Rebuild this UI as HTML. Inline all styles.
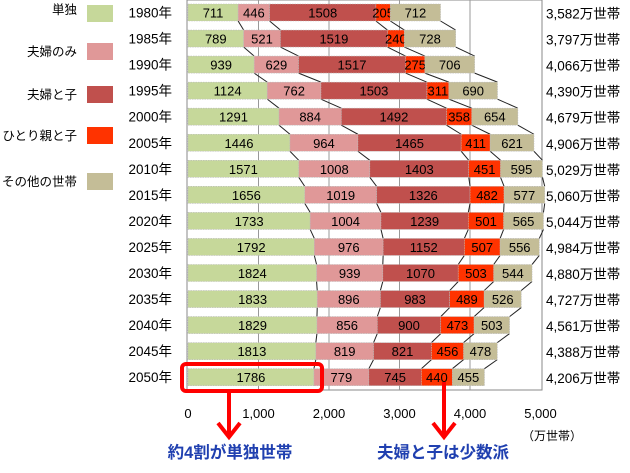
<!DOCTYPE html>
<html><head><meta charset="utf-8"><style>
body{margin:0;background:#fff;width:630px;height:468px;overflow:hidden;font-family:"Liberation Sans","Noto Sans CJK JP",sans-serif}
</style></head><body>
<svg id="chart" width="630" height="468" xmlns="http://www.w3.org/2000/svg" font-family="Liberation Sans, Noto Sans CJK JP, sans-serif"></svg>
<script>
const years=["1980年","1985年","1990年","1995年","2000年","2005年","2010年","2015年","2020年","2025年","2030年","2035年","2040年","2045年","2050年"];
const single=[711,789,939,1124,1291,1446,1571,1656,1733,1792,1824,1833,1829,1813,1786];
const couple=[446,521,629,762,884,964,1008,1019,1004,976,939,896,856,819,779];
const coupleChild=[1508,1519,1517,1503,1492,1465,1403,1326,1239,1152,1070,983,900,821,745];
const singleParent=[205,240,275,311,358,411,451,482,501,507,503,489,473,456,440];
const other=[712,728,706,690,654,621,595,577,565,556,544,526,503,478,455];
const totals=["3,582","3,797","4,066","4,390","4,679","4,906","5,029","5,060","5,044","4,984","4,880","4,727","4,561","4,388","4,206"];
const xTicks=[0,1000,2000,3000,4000,5000];
const xTickLabels=["0","1,000","2,000","3,000","4,000","5,000"];
const seriesNames=["単独","夫婦のみ","夫婦と子","ひとり親と子","その他の世帯"];
const colors=["#c6d89a","#e09898","#c0504d","#ff3300","#c4bd97"];
const series=[single,couple,coupleChild,singleParent,other];
const NS="http://www.w3.org/2000/svg";
const svg=document.getElementById('chart');
const x=v=>188+v*0.0705;
const yc=i=>12.5+i*26.05;
const bh=17;
function mk(t,a,p){const e=document.createElementNS(NS,t);for(const k in a)e.setAttribute(k,a[k]);(p||svg).appendChild(e);return e;}
let fr=mk('rect',{x:187,y:0,width:355,height:390,fill:'none',stroke:'#888','stroke-width':1});


xTicks.forEach((t,i)=>{
 if(i>0&&i<5){let g=mk('line',{x1:x(t),x2:x(t),y1:0,y2:390,stroke:'#999','stroke-width':1});
 
 }
 let tl=mk('text',{x:x(t),y:418,'text-anchor':'middle','font-size':13,fill:'#000'});
 tl.textContent=xTickLabels[i];
 
 
});
let un=mk('text',{x:552,y:440,'text-anchor':'middle','font-size':12});un.textContent='（万世帯）';


for(let i=0;i<years.length-1;i++){
 let c1=0,c2=0;
 for(let s=0;s<5;s++){c1+=series[s][i];c2+=series[s][i+1];
  let l=mk('line',{x1:x(c1),y1:yc(i)+bh/2,x2:x(c2),y2:yc(i+1)-bh/2,stroke:'#222','stroke-width':1});
  
  }
}
years.forEach((yr,i)=>{
 let cum=0;
 for(let s=0;s<5;s++){
  const v=series[s][i];
  let r=mk('rect',{x:x(cum),y:yc(i)-bh/2,width:v*0.0705,height:bh,fill:colors[s],stroke:'#bbb','stroke-width':0.6,'stroke-dasharray':'1.5,1'});
  
  
  let t=mk('text',{x:x(cum+v/2),y:yc(i)+5,'text-anchor':'middle','font-size':13,fill:'#000'});
  t.textContent=v;
  
  
  cum+=v;
 }
 let yl=mk('text',{x:172,y:yc(i)+5,'text-anchor':'end','font-size':13.5});yl.textContent=yr;
 
 
 let tt=mk('text',{x:546,y:yc(i)+6,'font-size':13.5});tt.textContent=totals[i]+'万世帯';
 
 
});
const ly=[5,43,86,127,173];
seriesNames.forEach((n,s)=>{
 let r=mk('rect',{x:87,y:ly[s],width:26,height:17,fill:colors[s]});
 
 
 let t=mk('text',{x:77,y:ly[s]+ (s==0?9:13),'text-anchor':'end','font-size':12.5});t.textContent=n;
 
 
});
let box=mk('rect',{x:182,y:364,width:140,height:27,rx:4,fill:'none',stroke:'#ff0000','stroke-width':4});


[[229,391],[444,382]].forEach(([ax,ay])=>{
 let a=mk('path',{d:`M${ax} ${ay} L${ax} 436 M${ax-11} 423 L${ax} 437 L${ax+11} 423`,stroke:'#ff0000','stroke-width':4,fill:'none'});
 
 
});
let a1=mk('text',{x:230,y:458,'text-anchor':'middle','font-size':16.5,'font-weight':'bold',fill:'#2040b0'});a1.textContent='約4割が単独世帯';


let a2=mk('text',{x:443,y:458,'text-anchor':'middle','font-size':16.5,'font-weight':'bold',fill:'#2040b0'});a2.textContent='夫婦と子は少数派';


</script>
</body></html>
